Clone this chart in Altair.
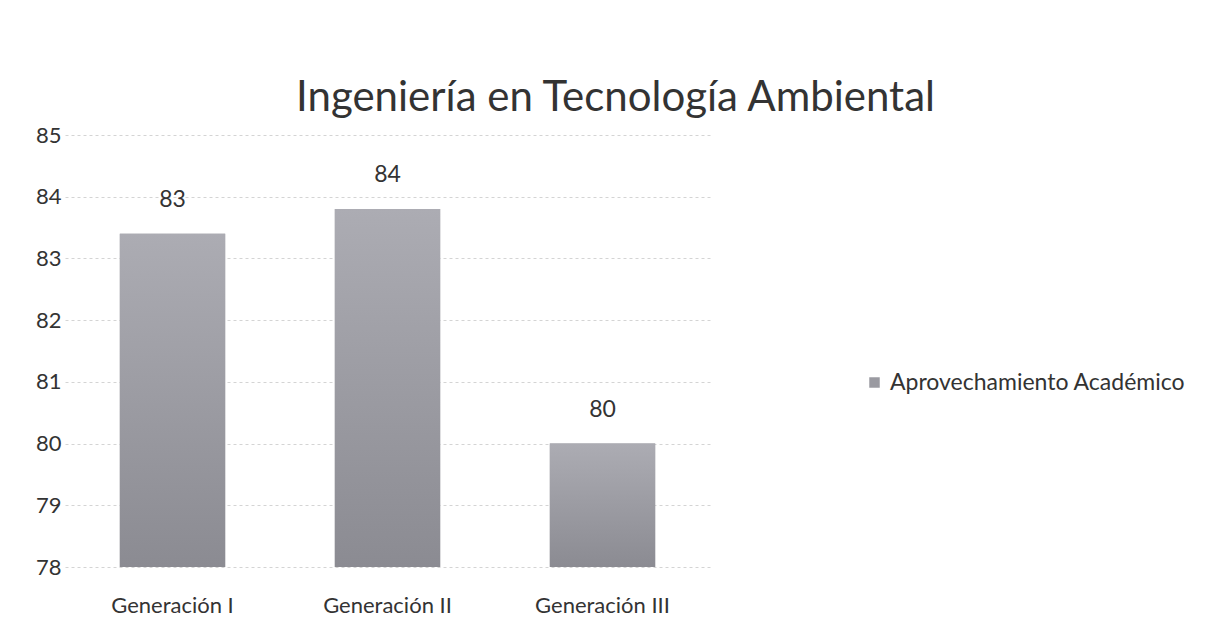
import altair as alt
import pandas as pd

categories = ["Generación I", "Generación II", "Generación III"]
values = [83.4, 83.8, 80.0]
series_name = "Aprovechamiento Académico"
y_ticks = [78, 79, 80, 81, 82, 83, 84, 85]
title_text = "Ingeniería en Tecnología Ambiental"

df = pd.DataFrame({
    "Generación": categories,
    "Valor": values,
    "Serie": [series_name] * len(categories),
})

FONT = "Lato"
TXT = "#333333"

x_enc = alt.X(
    "Generación:N",
    sort=categories,
    scale=alt.Scale(paddingInner=0.51, paddingOuter=0.255),
    axis=alt.Axis(title=None, labelAngle=0, labelFontSize=22, labelFont=FONT,
                  labelColor=TXT, labelPadding=28, ticks=False, domain=False,
                  labelLimit=0),
)
y_enc = alt.Y(
    "Valor:Q",
    scale=alt.Scale(domain=[78, 85], zero=False, nice=False),
    axis=alt.Axis(title=None, values=y_ticks, format="d", labelFontSize=22,
                  labelFont=FONT, labelColor=TXT, labelPadding=4, ticks=False,
                  domain=False, grid=True, gridColor="#d4d4d4", gridDash=[3, 3],
                  gridWidth=1),
)

base = alt.Chart(df).encode(x=x_enc)

bars = base.mark_bar().encode(
    y=y_enc,
    y2=alt.datum(78),
    color=alt.Color(
        "Serie:N",
        scale=alt.Scale(range=["#9a9aa1"]),
        legend=alt.Legend(title=None, orient="none", legendX=798, legendY=236,
                          symbolType="square", symbolSize=110, labelFontSize=23,
                          labelFont=FONT, labelColor=TXT, symbolStrokeWidth=0,
                          labelLimit=0),
    ),
)

grad = alt.Gradient(
    gradient="linear",
    stops=[alt.GradientStop(color="#acacb3", offset=0),
           alt.GradientStop(color="#8b8b92", offset=1)],
    x1=0, x2=0, y1=0, y2=1,
)
bars_grad = base.mark_bar(fill=grad).encode(y=alt.Y("Valor:Q"), y2=alt.datum(78))

labels = base.mark_text(dy=-34, fontSize=23, font=FONT, color=TXT).encode(
    y=alt.Y("Valor:Q"),
    text=alt.Text("Valor:Q", format=".0f"),
)

chart = (bars + bars_grad + labels).properties(
    width=645,
    height=432,
    title=alt.TitleParams(title_text, fontSize=42, font=FONT, fontWeight="normal",
                          color=TXT, anchor="middle", dx=228, offset=4),
    autosize=alt.AutoSizeParams(type="none"),
    padding={"left": 57, "top": 127, "right": 480, "bottom": 55},
).configure(background="white").configure_view(stroke=None)

chart.save("out.html", embed_options={"renderer": "svg", "actions": False})
